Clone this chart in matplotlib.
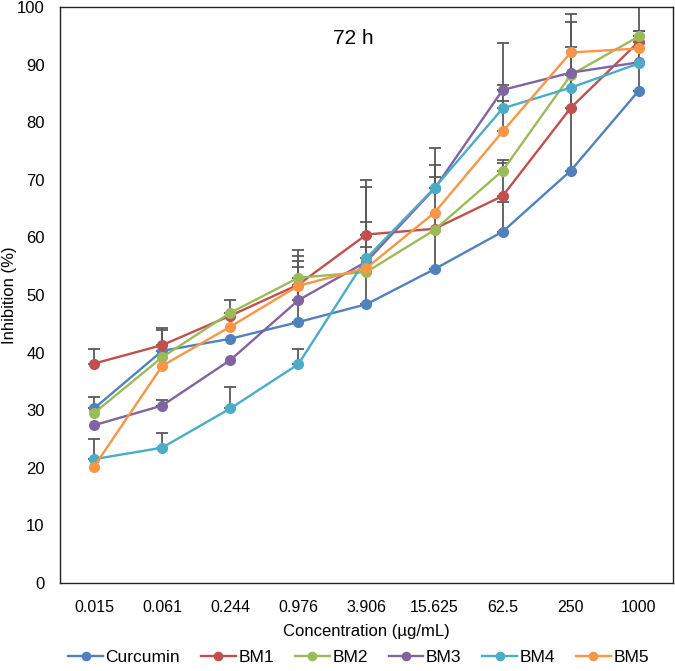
import numpy as np
import matplotlib
matplotlib.use("Agg")
from matplotlib import pyplot as plt

plt.rcParams['font.family'] = ['Liberation Sans', 'DejaVu Sans']

conc = ["0.015", "0.061", "0.244", "0.976", "3.906", "15.625", "62.5", "250", "1000"]
names = ["Curcumin", "BM1", "BM2", "BM3", "BM4", "BM5"]

curcumin = [30.3, 40.3, 42.4, 45.3, 48.4, 54.5, 61.0, 71.6, 85.5]
bm1 = [38.1, 41.3, 46.4, 51.8, 60.5, 61.5, 67.2, 82.5, 94.0]
bm2 = [29.5, 39.2, 46.9, 53.0, 54.0, 61.3, 71.6, 88.2, 94.9]
bm3 = [27.4, 30.8, 38.7, 49.1, 55.8, 68.5, 85.6, 88.6, 90.4]
bm4 = [21.5, 23.5, 30.3, 38.0, 56.4, 68.6, 82.4, 86.0, 90.2]
bm5 = [20.2, 37.7, 44.5, 51.6, 54.7, 64.3, 78.4, 92.1, 92.8]

# upper error only (0 = not visible)
err_curcumin = [2.0, 3.6, 0, 9.6, 10.0, 16.0, 5.2, 21.5, 10.4]
err_bm1 = [2.6, 2.9, 0, 5.0, 9.4, 0, 5.7, 14.9, 9.0]
err_bm2 = [0, 0, 2.3, 4.8, 8.6, 0, 1.8, 10.6, 1.0]
err_bm3 = [0, 1.0, 0, 6.8, 0, 4.0, 8.2, 0, 0]
err_bm4 = [3.5, 2.5, 3.8, 2.7, 12.4, 7.0, 4.1, 0, 0]
err_bm5 = [0, 0, 0, 0, 0, 0, 5.3, 0, 0]

series = [curcumin, bm1, bm2, bm3, bm4, bm5]
errs = [err_curcumin, err_bm1, err_bm2, err_bm3, err_bm4, err_bm5]
colors = ["#4F81BD", "#C0504D", "#9BBB59", "#8064A2", "#4BACC6", "#F79646"]

fig = plt.figure(figsize=(6.75, 6.71), dpi=100)
ax = fig.add_axes([0.0889, 0.1311, 0.9081, 0.8585])

x = np.arange(len(conc))
for vals, e, c, n in zip(series, errs, colors, names):
    e = np.array(e, dtype=float)
    m = e > 0
    ax.errorbar(x[m], np.array(vals)[m], yerr=[np.zeros(m.sum()), e[m]],
                fmt='none', ecolor="#595959", elinewidth=1.3, capsize=4,
                capthick=1.3, zorder=2)
    ax.plot(x, vals, color=c, lw=1.7, marker='o', markersize=7,
            label=n, zorder=3)

ax.set_xlim(-0.5, len(conc) - 0.5)
ax.set_ylim(0, 100)
ax.set_yticks(range(0, 101, 10))
ax.set_xticks(x)
ax.set_xticklabels(conc)
ax.tick_params(axis='y', length=0, pad=11, labelsize=12)
ax.tick_params(axis='x', length=0, pad=12, labelsize=11.5)
for s in ax.spines.values():
    s.set_color("#222222")
    s.set_linewidth(1.0)

ax.text(0.478, 0.946, "72 h", transform=ax.transAxes, ha='center',
        va='center', fontsize=15)
ax.set_ylabel("Inhibition (%)", fontsize=12, va='center')
ax.yaxis.set_label_coords(-0.083, 0.5)
ax.set_xlabel("Concentration (\u00b5g/mL)", fontsize=12, va='center')
ax.xaxis.set_label_coords(0.5, -0.085)

ax.legend(loc='center', bbox_to_anchor=(0.487, -0.130), ncol=6,
          frameon=False, fontsize=12.5, handlelength=2.0, handletextpad=0.15,
          columnspacing=1.2, borderaxespad=0, markerscale=0.85)

fig.savefig("out.png", dpi=100)
